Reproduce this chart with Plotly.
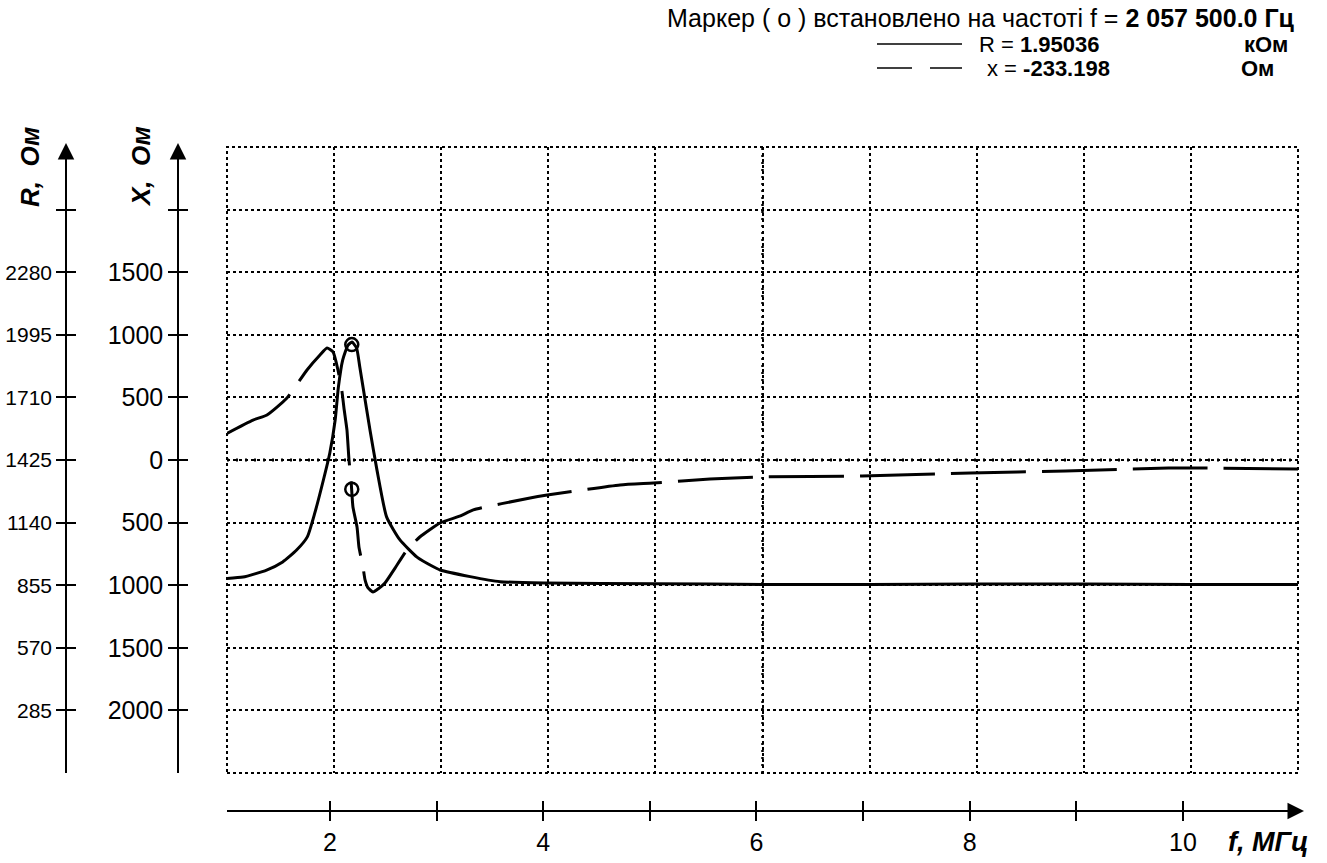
import plotly.graph_objects as go

# ---------------- data ----------------
# R(f) curve, solid (Ohm, left R axis)
R_F = [1.00, 1.15, 1.37, 1.52, 1.65, 1.75, 1.82, 1.90, 1.96, 2.01, 2.04, 2.08,
       2.13, 2.167, 2.21, 2.24, 2.27, 2.335, 2.40, 2.49, 2.615, 2.774, 2.923,
       2.99, 3.27, 3.55, 3.97, 5.0, 6.0, 7.0, 8.0, 9.0, 10.0, 11.0]
R_VAL = [886, 892, 924, 961, 1015, 1075, 1184, 1334, 1457, 1607, 1757, 1880,
         1948, 1962, 1935, 1848, 1757, 1562, 1380, 1166, 1061, 983, 940,
         924, 894, 871, 865, 862, 858, 858, 860, 860, 858, 858]

# X(f) curve, dashed (Ohm)
X_F = [1.00, 1.243, 1.373, 1.56, 1.747, 1.868, 1.934, 1.99, 2.036, 2.074, 2.092,
       2.12, 2.139, 2.158, 2.176, 2.214, 2.232, 2.27, 2.289, 2.317, 2.363, 2.41,
       2.475, 2.569, 2.68, 2.80, 2.99, 3.18, 3.30, 3.83, 3.99, 4.67, 4.98, 5.51,
       5.95, 6.93, 7.94, 8.83, 9.79, 11.0]
X_VAL = [213, 319, 359, 495, 719, 839, 895, 863, 719, 543, 415,
         240, 0, -160, -375, -535, -695, -855, -958, -1022, -1054, -1030,
         -982, -863, -719, -615, -503, -447, -399, -303, -280, -200, -184, -152,
         -136, -128, -104, -88, -64, -72]

MARKER_F = 2.165
MARKER_R = 1950.36
MARKER_X = -233.198

F_TICKS = [2, 3, 4, 5, 6, 7, 8, 9, 10]
F_LABELS = ["2", "", "4", "", "6", "", "8", "", "10"]
X_TICKS = [2000, 1500, 1000, 500, 0, -500, -1000, -1500, -2000]
X_LABELS = ["", "1500", "1000", "500", "0", "500", "1000", "1500", "2000"]
R_TICKS = [2565, 2280, 1995, 1710, 1425, 1140, 855, 570, 285]
R_LABELS = ["", "2280", "1995", "1710", "1425", "1140", "855", "570", "285"]

HEADER = "Маркер ( о ) встановлено на частоті f = <b>2 057 500.0 Гц</b>"
R_TEXT = "R = <b>1.95036</b>"
R_UNIT = "<b>кОм</b>"
X_TEXT = "x = <b>-233.198</b>"
X_UNIT = "<b>Ом</b>"

# ---------------- layout helpers ----------------
W, H = 1327, 863
def px(p):
    return p / W
def py(p):
    return (H - p) / H

NARROW = "Liberation Sans Narrow, Arial Narrow, Liberation Sans, Arial, sans-serif"
REG = "Liberation Sans, Arial, sans-serif"
BLACK = "black"

XDOM = [px(227), px(1298)]
YDOM = [py(773), py(147)]

fig = go.Figure()

fig.add_trace(go.Scatter(x=R_F, y=R_VAL, xaxis="x", yaxis="y2", mode="lines",
                         line=dict(color=BLACK, width=3, shape="spline", smoothing=0.5),
                         hoverinfo="skip", showlegend=False))
fig.add_trace(go.Scatter(x=X_F, y=X_VAL, xaxis="x", yaxis="y", mode="lines",
                         line=dict(color=BLACK, width=3, dash="75px,16px",
                                   shape="spline", smoothing=0.5),
                         hoverinfo="skip", showlegend=False))
fig.add_trace(go.Scatter(x=[MARKER_F], y=[MARKER_R], xaxis="x", yaxis="y2", mode="markers",
                         marker=dict(symbol="circle-open", size=13, color=BLACK,
                                     line=dict(width=2.5, color=BLACK)),
                         hoverinfo="skip", showlegend=False))
fig.add_trace(go.Scatter(x=[MARKER_F], y=[MARKER_X], xaxis="x", yaxis="y", mode="markers",
                         marker=dict(symbol="circle-open", size=13, color=BLACK,
                                     line=dict(width=2.5, color=BLACK)),
                         hoverinfo="skip", showlegend=False))
# dummy traces so that the extra axes are drawn
for xa, ya in [("x2", "y"), ("x3", "y"), ("x", "y3"), ("x", "y4")]:
    fig.add_trace(go.Scatter(x=[None], y=[None], xaxis=xa, yaxis=ya, mode="lines",
                             hoverinfo="skip", showlegend=False))

BOT_RANGE = [1.034, 11.079]
common_tick = dict(tickcolor=BLACK, tickwidth=1.5, linecolor=BLACK, linewidth=1.5,
                   zeroline=False, showgrid=False)

fig.update_layout(
    width=W, height=H, margin=dict(l=0, r=0, t=0, b=0),
    paper_bgcolor="white", plot_bgcolor="white", showlegend=False,
    xaxis=dict(domain=XDOM, range=[1, 11], tickvals=F_TICKS, showticklabels=False,
               ticks="", showline=False, zeroline=False, showgrid=True,
               griddash="dot", gridcolor=BLACK, gridwidth=1.5, anchor="y"),
    xaxis2=dict(overlaying="x", anchor="free", position=py(811), side="bottom",
                range=BOT_RANGE, tickvals=F_TICKS, ticktext=F_LABELS,
                ticks="outside", ticklen=9, showline=True,
                tickfont=dict(family=REG, size=25, color=BLACK), **common_tick),
    xaxis3=dict(overlaying="x", anchor="free", position=py(811), side="bottom",
                range=BOT_RANGE, tickvals=F_TICKS, showticklabels=False,
                ticks="inside", ticklen=10, showline=False, **common_tick),
    yaxis=dict(domain=YDOM, range=[-2500, 2500], anchor="free", position=px(178),
               side="left", tickvals=X_TICKS, ticktext=X_LABELS,
               ticks="outside", ticklen=9, tickcolor=BLACK, tickwidth=1.5,
               showline=True, linecolor=BLACK, linewidth=1.5, zeroline=False,
               showgrid=True, griddash="dot", gridcolor=BLACK, gridwidth=1.5,
               tickfont=dict(family=REG, size=25, color=BLACK)),
    yaxis2=dict(overlaying="y", anchor="free", position=px(66), side="left",
                range=[0, 2850], tickvals=R_TICKS, ticktext=R_LABELS,
                ticks="outside", ticklen=9, showline=True,
                tickfont=dict(family=NARROW, size=21, color=BLACK), **common_tick),
    yaxis3=dict(overlaying="y", anchor="free", position=px(178), side="left",
                range=[-2500, 2500], tickvals=X_TICKS, showticklabels=False,
                ticks="inside", ticklen=9, showline=False, **common_tick),
    yaxis4=dict(overlaying="y", anchor="free", position=px(66), side="left",
                range=[0, 2850], tickvals=R_TICKS, showticklabels=False,
                ticks="inside", ticklen=9, showline=False, **common_tick),
)

shapes = [
    dict(type="rect", xref="x domain", yref="y domain", x0=0, x1=1, y0=0, y1=1,
         line=dict(color=BLACK, width=2, dash="dot"), layer="below"),
    dict(type="line", xref="x domain", yref="y", x0=0, x1=1, y0=0, y1=0,
         line=dict(color=BLACK, width=3, dash="2px,7px"), layer="below"),
    dict(type="line", xref="x", yref="y domain", x0=6, x1=6, y0=0, y1=1,
         line=dict(color=BLACK, width=2.5, dash="2px,5px"), layer="below"),
    # legend samples
    dict(type="line", xref="paper", yref="paper", x0=px(877), x1=px(962),
         y0=py(44), y1=py(44), line=dict(color=BLACK, width=1.5)),
    dict(type="line", xref="paper", yref="paper", x0=px(877), x1=px(912),
         y0=py(68), y1=py(68), line=dict(color=BLACK, width=1.5)),
    dict(type="line", xref="paper", yref="paper", x0=px(930), x1=px(962),
         y0=py(68), y1=py(68), line=dict(color=BLACK, width=1.5)),
]
fig.update_layout(shapes=shapes)

ann = []
def text(x, y, s, anchor="left", size=21, family=NARROW, angle=0):
    ann.append(dict(x=px(x), y=py(y), xref="paper", yref="paper", text=s,
                    showarrow=False, xanchor=anchor, yanchor="middle",
                    textangle=angle, font=dict(family=family, size=size, color=BLACK)))

text(1297, 18, HEADER, anchor="right", size=25)
text(977, 44.5, R_TEXT, size=22)
text(1290, 44.5, R_UNIT, anchor="right", size=22)
text(985, 68.5, X_TEXT, size=22)
text(1276, 68.5, X_UNIT, anchor="right", size=22)
text(30, 167, "<b><i>R,  Ом</i></b>", anchor="center", size=26, family=REG, angle=-90)
text(141, 167, "<b><i>X,  Ом</i></b>", anchor="center", size=26, family=REG, angle=-90)
text(1268, 842, "<b><i>f, МГц</i></b>", anchor="center", size=27, family=REG)

# axis arrows
for (hx, hy, ax, ay) in [(66, 143, 0, 30), (178, 143, 0, 30), (1304, 811, -30, 0)]:
    ann.append(dict(x=px(hx), y=py(hy), xref="paper", yref="paper", text="",
                    showarrow=True, ax=ax, ay=ay, axref="pixel", ayref="pixel",
                    arrowhead=2, arrowsize=2.2, arrowwidth=1.5, arrowcolor=BLACK))
fig.update_layout(annotations=ann)

fig.write_html("out.html")
